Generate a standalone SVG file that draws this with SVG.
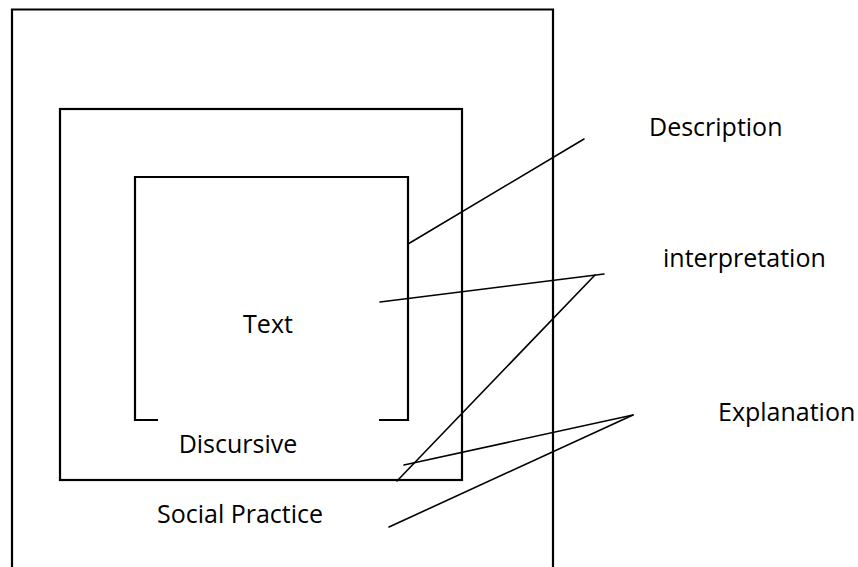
<svg xmlns="http://www.w3.org/2000/svg" width="858" height="567" viewBox="0 0 858 567">
<style>
.box{fill:none;stroke:#000;stroke-width:2.2}
.ln{fill:none;stroke:#000;stroke-width:1.6;stroke-linecap:round}
text{font-family:"Open Sans","Noto Sans","Liberation Sans",sans-serif;font-size:25px;fill:#000}
</style>
<rect width="858" height="567" fill="#fff"/>
<g id="social-practice">
<path class="box" d="M12,567 V9.5 H553 V567"/>
<text x="240" y="523" text-anchor="middle">Social Practice</text>
</g>
<g id="discursive">
<rect class="box" x="60" y="109" width="402" height="371"/>
<text x="238" y="453" text-anchor="middle">Discursive</text>
</g>
<g id="text">
<path class="box" d="M158,420 H135 V177 H408 V420 H379"/>
<text x="268" y="333" text-anchor="middle">Text</text>
</g>
<g id="description"><text x="649" y="136">Description</text></g>
<g id="interpretation"><text x="663" y="267">interpretation</text></g>
<g id="explanation"><text x="718" y="421">Explanation</text></g>
<g id="connectors">
<line class="ln" x1="408" y1="244" x2="584" y2="139"/>
<line class="ln" x1="380" y1="302" x2="604" y2="274"/>
<line class="ln" x1="595" y1="275" x2="397" y2="481"/>
<line class="ln" x1="633" y1="415" x2="404" y2="465"/>
<line class="ln" x1="633" y1="415" x2="389" y2="527"/>
</g>
</svg>
